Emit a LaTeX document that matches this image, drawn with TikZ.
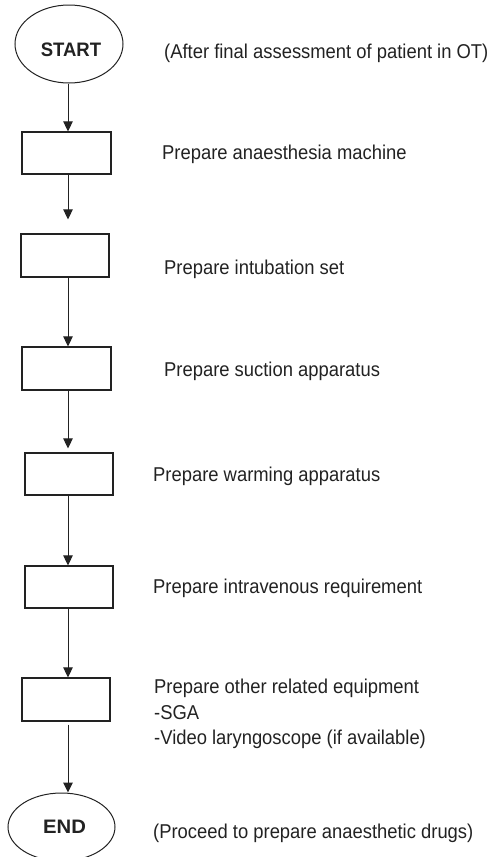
\documentclass[tikz,border=0pt]{standalone}
\usepackage{fontspec}
\setmainfont{Liberation Sans}
\usetikzlibrary{shapes.geometric,arrows.meta}
\definecolor{ink}{HTML}{222222}
% labels are set slightly narrower than the regular face
\newcommand{\hs}[1]{\scalebox{0.92}[1]{#1}}
\tikzset{
  stepbox/.style={draw=ink, line width=1.2pt, inner sep=0pt},
  terminal/.style={draw=ink, ellipse, line width=1pt, inner sep=0pt},
  termtext/.style={anchor=base, inner sep=0pt, text=ink,
    font=\bfseries\fontsize{19.5}{24}\selectfont},
  lbl/.style={anchor=base west, inner sep=0pt, text=ink,
    font=\fontsize{20}{24}\selectfont},
  flow/.style={draw=ink, line width=1pt,
    -{Triangle[width=9.5pt,length=10pt]}},
}
\begin{document}
\begin{tikzpicture}[x=1pt,y=-1pt]
\useasboundingbox (0,0) rectangle (491,857);
\begin{scope}
\clip (0,0) rectangle (491,857);

% terminals
\node[terminal, minimum width=108pt, minimum height=78pt] (start) at (69,44) {};
\node[termtext] (starttxt) at (71,56.7) {\scalebox{0.95}[1]{START}};
\node[terminal, minimum width=107pt, minimum height=68pt] (end) at (61.5,827) {};
\node[termtext] (endtxt) at (64.5,833) {\scalebox{1.04}[1]{END}};

% process boxes
\node[stepbox, minimum width=89pt, minimum height=42pt] (b1) at (66.5,153) {};
\node[stepbox, minimum width=88pt, minimum height=43pt] (b2) at (65,255.5) {};
\node[stepbox, minimum width=89pt, minimum height=43pt] (b3) at (66.5,368.5) {};
\node[stepbox, minimum width=88pt, minimum height=42pt] (b4) at (69,474) {};
\node[stepbox, minimum width=88pt, minimum height=42pt] (b5) at (69,587) {};
\node[stepbox, minimum width=88pt, minimum height=43pt] (b6) at (66,699.5) {};

% connectors run down a common column
\coordinate (col) at (68,0);
\draw[flow] (start.south -| col) -- (b1.north -| col);
\draw[flow, shorten >=14pt] (b1.south -| col) -- (b2.north -| col);
\draw[flow] (b2.south -| col) -- (b3.north -| col);
\draw[flow, shorten >=4pt] (b3.south -| col) -- (b4.north -| col);
\draw[flow] (b4.south -| col) -- (b5.north -| col);
\draw[flow] (b5.south -| col) -- (b6.north -| col);
\draw[flow, shorten <=3pt] (b6.south -| col) -- (end.north -| col);

% descriptions
\node[lbl] (t0) at (164,58.3) {\hs{(After final assessment of patient in OT)}};
\node[lbl] (t1) at (162,159) {\hs{Prepare anaesthesia machine}};
\node[lbl] (t2) at (164,274) {\hs{Prepare intubation set}};
\node[lbl] (t3) at (164,376) {\hs{Prepare suction apparatus}};
\node[lbl] (t4) at (153,481) {\hs{Prepare warming apparatus}};
\node[lbl] (t5) at (153,593) {\hs{Prepare intravenous requirement}};
\node[lbl] (t6a) at (154,693) {\hs{Prepare other related equipment}};
\node[lbl] (t6b) at (154,719) {\hs{-SGA}};
\node[lbl] (t6c) at (154,744) {\hs{-Video laryngoscope (if available)}};
\node[lbl] (t7) at (153,838) {\hs{(Proceed to prepare anaesthetic drugs)}};
\end{scope}
\end{tikzpicture}
\end{document}
